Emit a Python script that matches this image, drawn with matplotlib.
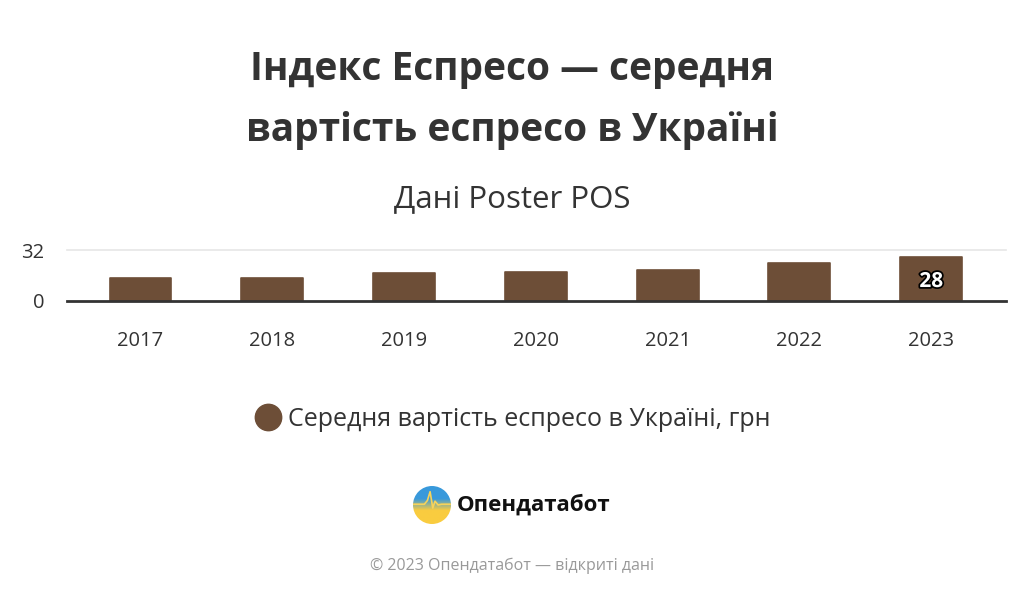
import matplotlib
matplotlib.use("Agg")
import matplotlib.pyplot as plt
import numpy as np
from matplotlib.lines import Line2D
from matplotlib.patches import Circle
import matplotlib.patheffects as pe

years = ["2017", "2018", "2019", "2020", "2021", "2022", "2023"]
values = [14.6, 14.6, 17.2, 18.0, 19.3, 23.7, 28]
yticks = [0, 32]
series_name = "Середня вартість еспресо в Україні, грн"
title_lines = ["Індекс Еспресо — середня", "вартість еспресо в Україні"]
subtitle = "Дані Poster POS"
brand = "Опендатабот"
footer = "© 2023 Опендатабот — відкриті дані"

plt.rcParams['font.family'] = ['Open Sans', 'DejaVu Sans']

W, H = 1024, 597
fig = plt.figure(figsize=(W / 100, H / 100), dpi=100)
fig.patch.set_facecolor("white")

def fx(px):
    return px / W

def fy(py):
    return 1 - py / H

bar_color = "#6d4e37"

ax_left, ax_right = 66.7, 1005.7
ax_bottom = 300.5
px_per_unit = 1.57
ymax = 34.0
ax = fig.add_axes([fx(ax_left), fy(ax_bottom), fx(ax_right - ax_left), ymax * px_per_unit / H])
x = np.arange(len(years))
ax.bar(x, values, width=0.47, color=bar_color, edgecolor=bar_color, linewidth=1.2,
       joinstyle='round', zorder=3)
ax.set_xlim(-0.56, 6.565)
ax.set_ylim(0, ymax)
ax.set_yticks(yticks)
ax.set_yticklabels([str(t) for t in yticks], fontsize=14.5, color="#333333")
ax.set_xticks(x)
ax.set_xticklabels(years, fontsize=14.5, color="#333333")
ax.tick_params(axis='both', length=0)
ax.tick_params(axis='x', pad=22)
ax.tick_params(axis='y', pad=16)
for s in ax.spines.values():
    s.set_visible(False)
ax.axhline(32, color="#e6e6e6", linewidth=1.2, zorder=1, clip_on=False)
ax.axhline(0, color="#333333", linewidth=2, zorder=4, clip_on=False)
ax.set_facecolor("none")

# label on last bar
ax.annotate(f"{values[-1]:.0f}", xy=(x[-1], values[-1]), xytext=(0, -18),
            textcoords='offset points', ha='center', va='center',
            fontsize=15, fontweight='bold', color='white', zorder=5,
            path_effects=[pe.withStroke(linewidth=2.5, foreground='black')])

# Titles
fig.text(0.5, fy(80), title_lines[0], ha='center', va='baseline', fontsize=28,
         fontweight='bold', color="#333333")
fig.text(0.5, fy(141), title_lines[1], ha='center', va='baseline', fontsize=28,
         fontweight='bold', color="#333333")
fig.text(0.5, fy(207.5), subtitle, ha='center', va='baseline', fontsize=22.5,
         color="#333333")

# Legend
handle = Line2D([], [], linestyle='none', marker='o', markersize=19,
                markerfacecolor=bar_color, markeredgecolor=bar_color)
fig.legend([handle], [series_name], loc='center', bbox_to_anchor=(fx(512), fy(419)),
           frameon=False, fontsize=18, handletextpad=0.2, labelcolor="#333333",
           handlelength=1.2)

# Logo
lax = fig.add_axes([fx(413), fy(524), fx(38), 38 / H])
lax.set_xlim(0, 1)
lax.set_ylim(0, 1)
lax.axis('off')
grad = np.zeros((100, 1, 3))
top = np.array([0.22, 0.60, 0.86])
bot = np.array([0.98, 0.80, 0.25])
for i in range(100):
    t = i / 99
    w = np.clip((t - 0.35) / 0.3, 0, 1)
    grad[i, 0] = top * (1 - w) + bot * w
im = lax.imshow(grad, extent=[0, 1, 0, 1], origin='upper', aspect='auto')
circ = Circle((0.5, 0.5), 0.5, transform=lax.transData)
im.set_clip_path(circ)
px = [0.0, 0.3, 0.38, 0.45, 0.52, 0.58, 0.66, 0.75, 1.0]
py = [0.52, 0.52, 0.62, 0.85, 0.42, 0.60, 0.50, 0.52, 0.52]
pl, = lax.plot(px, py, color="#f7d35a", linewidth=1.2)
pl.set_clip_path(circ)
fig.text(fx(457), fy(505), brand, ha='left', va='center', fontsize=16,
         fontweight='bold', color="#111111")

# Footer
fig.text(0.5, fy(566), footer, ha='center', va='center', fontsize=11.5, color="#999999")

fig.savefig("out.png", dpi=100, facecolor="white")
